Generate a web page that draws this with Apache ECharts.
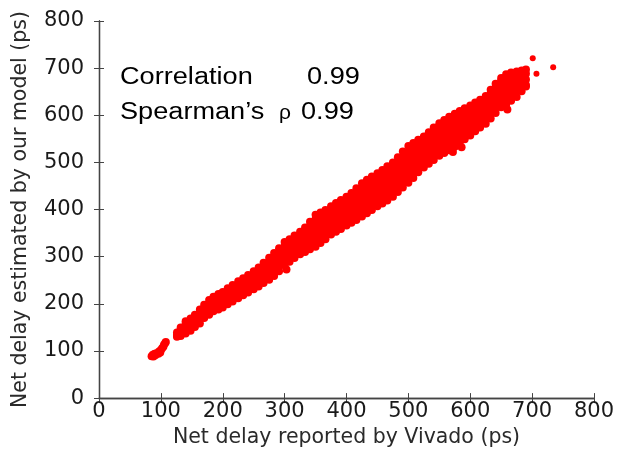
<!DOCTYPE html>
<html>
<head>
<meta charset="utf-8">
<script src="https://cdn.jsdelivr.net/npm/echarts@6/dist/echarts.min.js"></script>
<style>html,body{margin:0;padding:0;background:#fff;}#c{width:631px;height:453px;}</style>
</head>
<body>
<div id="c"></div>
<script>
// Axis settings
const axisMin = 0, axisMax = 800, axisStep = 100;
const xName = 'Net delay reported by Vivado (ps)';
const yName = 'Net delay estimated by our model (ps)';

// Small isolated cluster at the low end
const lowCluster = [[85,89],[88,88],[87,92],[91,91],[93,95],[96,94],[97,99],[100,102],[102,106],[104,109],[105,113],[107,117],[108,119],[99,97],[90,94]];

// Main band: [vivado delay, [model delays...]]
const bandColumns = [
  [126,[130,134,139]],
  [132,[132,138,145,150]],
  [140,[137,143,151,157,163]],
  [148,[143,149,156,164,169]],
  [155,[151,157,165,171,177]],
  [163,[158,166,173,181,188]],
  [170,[170,176,185,192,198]],
  [178,[177,184,193,200,208]],
  [185,[184,191,200,208,215]],
  [193,[188,196,205,213,221]],
  [200,[192,201,209,218,225]],
  [208,[199,207,217,225,233]],
  [216,[205,213,222,233,240]],
  [225,[212,221,230,240,248]],
  [233,[218,227,237,246,254]],
  [241,[224,233,244,253,261]],
  [250,[231,240,251,260,269]],
  [258,[237,247,257,268,277]],
  [266,[244,252,263,271,281,287]],
  [275,[251,261,270,281,290,298]],
  [283,[259,268,279,289,300,308]],
  [291,[269,279,288,299,309,318]],
  [300,[282,291,302,311,322,331]],
  [308,[289,298,309,318,329,337]],
  [316,[297,307,316,327,336,345]],
  [325,[305,314,325,334,345,353]],
  [333,[310,320,330,342,352,362]],
  [341,[316,325,336,345,356,365,374]],
  [350,[321,331,340,351,360,371,380,389]],
  [358,[329,337,348,357,367,376,387,394]],
  [366,[337,346,354,365,373,383,391,399]],
  [375,[347,354,363,371,380,388,398,407]],
  [383,[353,362,370,380,388,398,406,414]],
  [391,[359,367,377,385,395,403,413,420]],
  [400,[366,375,383,393,401,411,419,427]],
  [408,[372,381,389,400,408,418,427,435]],
  [416,[378,387,395,406,415,426,436,445]],
  [425,[385,394,403,414,423,435,445,456]],
  [433,[392,401,410,421,431,443,453,463]],
  [441,[399,408,417,428,438,450,460,470]],
  [450,[407,416,424,435,444,456,466,477]],
  [458,[413,422,431,442,452,464,474,484]],
  [466,[419,429,438,449,459,471,481,492]],
  [475,[427,437,446,457,467,479,489,500]],
  [483,[437,447,456,467,477,489,500,511]],
  [491,[447,457,466,477,487,500,511,523]],
  [500,[457,467,476,487,497,510,522,535]],
  [508,[467,476,485,496,506,519,530,541]],
  [516,[479,488,496,507,516,528,538,548]],
  [525,[489,498,506,517,526,537,546,555]],
  [533,[497,506,514,525,534,545,555,564]],
  [541,[505,514,523,534,544,556,565,574]],
  [550,[514,523,532,543,553,565,574,583]],
  [558,[520,530,540,552,562,574,582,590]],
  [566,[526,537,547,559,569,581,589,597]],
  [575,[533,544,554,567,578,591,603]],
  [583,[541,552,563,576,587,600,609]],
  [591,[549,560,571,584,595,607,615]],
  [600,[557,568,579,591,601,613,621]],
  [608,[566,577,588,600,610,619,627]],
  [616,[574,585,595,607,616,626,633]],
  [625,[582,593,603,615,624,634,641]],
  [633,[593,605,615,627,637,647,654]],
  [641,[605,616,626,638,648,659,667]],
  [650,[617,629,640,653,664,674,679]],
  [658,[623,635,646,659,670,680,687]],
  [666,[631,643,654,667,676,687,691]],
  [675,[639,652,663,676,685,693]],
  [683,[651,665,678,690,695]],
  [690,[661,676,688,697]]
];

// Stragglers just outside the band
const stragglers = [[303,273],[572,522],[586,532],[660,612],[690,664]];

// Isolated points at the top end
const outliers = [[701,721],[707,688],[734,702]];

// Annotation text
const corrLabel = 'Correlation', corrValue = '0.99';
const spearLabel = 'Spearman\u2019s', rhoSymbol = '\u03C1', spearValue = '0.99';

const points = [];
lowCluster.forEach(p => points.push(p));
bandColumns.forEach(c => c[1].forEach(y => points.push([c[0], y])));
stragglers.forEach(p => points.push(p));

const axisColor = '#444';
const labelFont = {fontFamily: 'DejaVu Sans', fontSize: 21, color: '#1a1a1a'};
const nameFont = {fontFamily: 'DejaVu Sans', fontSize: 20.5, color: '#2a2a2a'};

function baseAxis(extra) {
  return Object.assign({
    type: 'value', min: axisMin, max: axisMax, interval: axisStep,
    axisLine: {show: true, lineStyle: {color: axisColor, width: 1.3}},
    axisTick: {show: true, inside: true, length: 5, lineStyle: {color: axisColor, width: 1}},
    splitLine: {show: false}
  }, extra);
}

const chart = echarts.init(document.getElementById('c'), null, {renderer: 'canvas'});
const annFont = '"Liberation Sans", Arial, sans-serif';
const sx = 1.18;
const annSize = 23;
chart.setOption({
  animation: false,
  backgroundColor: '#fff',
  grid: {left: 99, right: 37, top: 21, bottom: 52, containLabel: false},
  xAxis: [
    baseAxis({position: 'bottom', name: xName, nameLocation: 'middle', nameGap: 28,
      nameTextStyle: nameFont, axisLabel: Object.assign({margin: 3}, labelFont)}),
    baseAxis({position: 'top', axisLabel: {show: false}})
  ],
  yAxis: [
    baseAxis({position: 'left', name: yName, nameLocation: 'middle', nameGap: 68,
      nameTextStyle: nameFont, axisLabel: Object.assign({margin: 15}, labelFont)}),
    baseAxis({position: 'right', axisLabel: {show: false}})
  ],
  series: [{
    type: 'scatter', xAxisIndex: 0, yAxisIndex: 0,
    data: points, symbol: 'circle', symbolSize: 8,
    itemStyle: {color: '#ff0000', opacity: 1}
  }, {
    type: 'scatter', xAxisIndex: 0, yAxisIndex: 0,
    data: outliers, symbol: 'circle', symbolSize: 6,
    itemStyle: {color: '#ff0000', opacity: 1}
  }],
  graphic: [
    {type: 'text', x: 120, y: 66, scaleX: sx, style: {text: corrLabel, fontSize: annSize, fontFamily: annFont, fill: '#000', verticalAlign: 'top'}},
    {type: 'text', x: 307, y: 66, scaleX: sx, style: {text: corrValue, fontSize: annSize, fontFamily: annFont, fill: '#000', verticalAlign: 'top'}},
    {type: 'text', x: 120, y: 101, scaleX: sx, style: {text: spearLabel, fontSize: annSize, fontFamily: annFont, fill: '#000', verticalAlign: 'top'}},
    {type: 'text', x: 279, y: 103, scaleX: 1.0, style: {text: rhoSymbol, fontSize: 21, fontFamily: annFont, fill: '#000', verticalAlign: 'top'}},
    {type: 'text', x: 301, y: 101, scaleX: sx, style: {text: spearValue, fontSize: annSize, fontFamily: annFont, fill: '#000', verticalAlign: 'top'}}
  ]
});
</script>
</body>
</html>
